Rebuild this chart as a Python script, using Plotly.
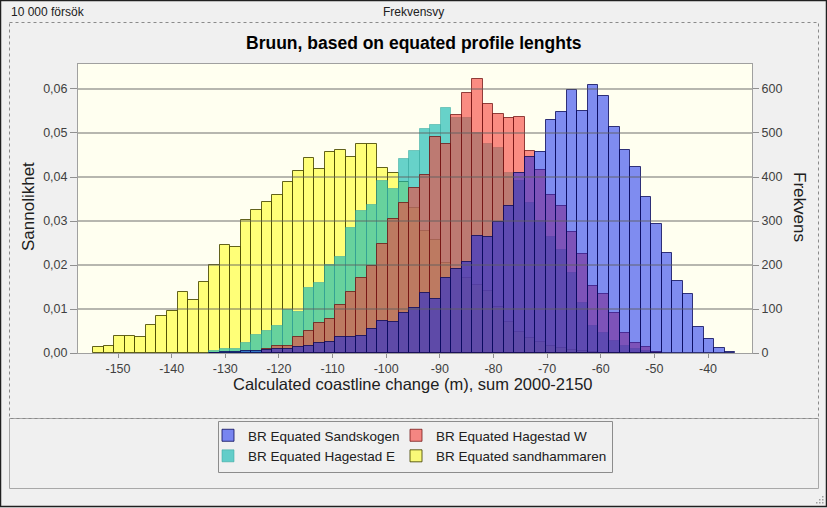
import plotly.graph_objects as go

# ---------------- data (counts per bin, 10 000 trials) ----------------
N_TRIALS = 10000
BIN_START = -154.6
BIN_WIDTH = 1.962
N_BINS = 61

SANDHAMMAREN = [14, 17, 38, 38, 36, 63, 85, 95, 139, 120,
                161, 199, 245, 240, 302, 324, 343, 359, 389, 413,
                443, 419, 457, 462, 446, 475, 475, 421, 408, 389,
                330, 278, 257, 204, 190, 170, 155, 140, 105, 70,
                48, 35, 25, 17, 11, 7, 4, 2] + [None] * 13

HAGESTAD_E = [None] * 11 + [5, 8, 9, 23, 42, 50, 62, 98, 93,
              148, 158, 200, 219, 283, 323, 337, 392, 372, 440,
              460, 508, 519, 556, 535, 533, 499, 475, 467, 408,
              390, 340, 300, 264, 234, 181, 113, 62, 45, 28,
              16, 9, 5, 2] + [None] * 7

HAGESTAD_W = [None] * 16 + [8, 16, 16, 37,
              50, 68, 78, 109, 138, 171, 198, 247, 305, 342,
              376, 405, 492, 475, 541, 592, 623, 566, 543, 533,
              537, 460, 416, 358, 334, 274, 226, 152, 134, 90,
              45, 22, 14, 3] + [None] * 7

SANDSKOGEN = [None] * 11 + [1, 2, 2, 4, 5, 6, 8, 10, 14,
              15, 22, 25, 36, 36, 39, 54, 73, 70, 92,
              102, 136, 123, 171, 192, 207, 266, 263, 298, 335,
              410, 446, 456, 530, 548, 598, 551, 608, 584, 513,
              461, 423, 354, 293, 228, 164, 134, 58, 31, 12, 3]

SERIES_NAMES = ["BR Equated sandhammaren", "BR Equated Hagestad E",
                "BR Equated Hagestad W", "BR Equated Sandskogen"]

X_TICKS = list(range(-150, -39, 10))
X_TICK_LABELS = [str(v) for v in X_TICKS]
P_TICKS = [0.00, 0.01, 0.02, 0.03, 0.04, 0.05, 0.06]
F_TICKS = [0, 100, 200, 300, 400, 500, 600]

X_RANGE = [-157.46, -31.8]
F_MAX = 656.8

# ---------------- layout geometry (pixels) ----------------
W, H = 827, 508
PL, PR, PT, PB = 78, 752, 64, 353


def xp(x):
    return (x - PL) / (PR - PL)


def yp(y):
    return (PB - y) / (PB - PT)


centers = [BIN_START + BIN_WIDTH * (i + 0.5) for i in range(N_BINS)]

styles = [
    dict(fill="rgba(255,255,40,0.6)", line="rgba(70,70,0,0.85)", legend="legend2"),
    dict(fill="rgba(17,185,178,0.64)", line="rgba(60,170,160,0.55)", legend="legend"),
    dict(fill="rgba(247,63,57,0.6)", line="rgba(110,15,15,0.75)", legend="legend2"),
    dict(fill="rgba(0,25,240,0.5)", line="rgba(10,10,90,0.8)", legend="legend"),
]

fig = go.Figure()
for name, vals, st in zip(SERIES_NAMES, [SANDHAMMAREN, HAGESTAD_E, HAGESTAD_W, SANDSKOGEN], styles):
    fig.add_trace(go.Bar(
        x=centers, y=vals, width=BIN_WIDTH, name=name, yaxis="y2",
        marker=dict(color=st["fill"], line=dict(color=st["line"], width=1)),
        legend=st["legend"], hoverinfo="skip",
    ))

font_main = "Arial, Liberation Sans, sans-serif"

shapes = []
# gridlines above the bars
for v in P_TICKS[1:]:
    shapes.append(dict(type="line", xref="paper", yref="y", x0=0, x1=1, y0=v, y1=v,
                       line=dict(color="rgba(95,95,95,0.6)", width=1.5), layer="above"))
# UI frame elements
shapes += [
    dict(type="rect", xref="paper", yref="paper", x0=xp(9.5), x1=xp(818.5), y0=yp(418.5), y1=yp(488.5),
         line=dict(color="#a8a8a8", width=1), layer="below"),
    dict(type="rect", xref="paper", yref="paper", x0=xp(9.5), x1=xp(818.5), y0=yp(22.5), y1=yp(418.5),
         line=dict(color="#8a8a8a", width=1, dash="dot"), layer="below"),
    dict(type="rect", xref="paper", yref="paper", x0=xp(218.5), x1=xp(612.5), y0=yp(421.5), y1=yp(472.5),
         line=dict(color="#8c8c8c", width=1), layer="below"),
    dict(type="rect", xref="paper", yref="paper", x0=xp(0.5), x1=xp(826.5), y0=yp(0.5), y1=yp(506.5),
         line=dict(color="#202020", width=1.5), layer="below"),
]
for gx, gy in [(822, 496), (822, 499), (819, 499), (822, 502), (819, 502), (816, 502)]:
    shapes.append(dict(type="rect", xref="paper", yref="paper", x0=xp(gx), x1=xp(gx + 1.5),
                       y0=yp(gy), y1=yp(gy + 1.5), line=dict(width=0), fillcolor="#a0a0a0"))

annotations = [
    dict(text="10 000 försök", x=xp(9), y=yp(12), xref="paper", yref="paper", xanchor="left",
         yanchor="middle", showarrow=False, font=dict(family=font_main, size=12, color="#202020")),
    dict(text="Frekvensvy", x=xp(413), y=yp(12), xref="paper", yref="paper", xanchor="center",
         yanchor="middle", showarrow=False, font=dict(family=font_main, size=12, color="#202020")),
    dict(text="<b>Bruun, based on equated profile lenghts</b>", x=xp(414), y=yp(43), xref="paper",
         yref="paper", xanchor="center", yanchor="middle", showarrow=False,
         font=dict(family=font_main, size=17.5, color="#000000")),
    dict(text="Calculated coastline change (m), sum 2000-2150", x=xp(413), y=yp(384), xref="paper",
         yref="paper", xanchor="center", yanchor="middle", showarrow=False,
         font=dict(family=font_main, size=16.5, color="#202020")),
    dict(text="Sannolikhet", x=xp(28), y=yp(207), xref="paper", yref="paper", xanchor="center",
         yanchor="middle", showarrow=False, textangle=-90,
         font=dict(family=font_main, size=17, color="#202020")),
    dict(text="Frekvens", x=xp(800), y=yp(207), xref="paper", yref="paper", xanchor="center",
         yanchor="middle", showarrow=False, textangle=90,
         font=dict(family=font_main, size=17, color="#202020")),
]

tick_font = dict(family=font_main, size=12.5, color="#404040")
legend_common = dict(bgcolor="rgba(0,0,0,0)", borderwidth=0, orientation="v",
                     xanchor="left", yanchor="top", traceorder="reversed",
                     font=dict(family=font_main, size=13.5, color="#202020"), tracegroupgap=0)

fig.update_layout(
    width=W, height=H,
    margin=dict(l=PL, r=W - PR, t=PT, b=H - PB, pad=0, autoexpand=False),
    paper_bgcolor="#f0f0f0", plot_bgcolor="#fffff0",
    barmode="overlay", bargap=0,
    separators=", ",
    showlegend=True,
    legend=dict(x=xp(208), y=yp(420), **legend_common),
    legend2=dict(x=xp(396), y=yp(420), **legend_common),
    xaxis=dict(range=X_RANGE, tickvals=X_TICKS, ticktext=X_TICK_LABELS, showgrid=False,
               zeroline=False, showline=True, mirror=True, linecolor="#a0a0a0", linewidth=1,
               ticks="outside", ticklen=4, tickcolor="#909090", tickfont=tick_font),
    yaxis=dict(range=[0, F_MAX / N_TRIALS], tickvals=P_TICKS, tickformat=".2f", showgrid=False,
               zeroline=False, showline=True, mirror=True, linecolor="#a0a0a0", linewidth=1,
               ticks="outside", ticklen=7, tickcolor="#909090", tickfont=tick_font),
    yaxis2=dict(range=[0, F_MAX], tickvals=F_TICKS, overlaying="y", side="right", anchor="x",
                showgrid=False, zeroline=False, showline=False,
                ticks="outside", ticklen=6, tickcolor="#909090", tickfont=tick_font),
    shapes=shapes, annotations=annotations,
)

fig.write_html("out.html")
